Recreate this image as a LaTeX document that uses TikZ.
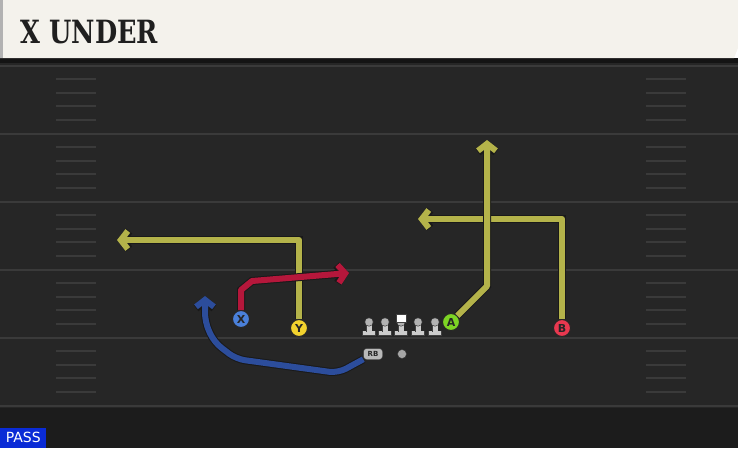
\documentclass[tikz,border=0pt]{standalone}
\usepackage{fontspec}
\setmainfont{DejaVu Sans}
\newfontfamily\titlefont{DejaVu Serif}[FakeStretch=0.8]
\usetikzlibrary{shapes,arrows.meta,positioning}
\definecolor{headbg}{HTML}{F4F2EC}
\definecolor{fieldbg}{HTML}{262626}
\definecolor{linegray}{HTML}{3A3A3A}
\definecolor{olive}{HTML}{B4B34A}
\definecolor{crimson}{HTML}{B5173B}
\definecolor{navy}{HTML}{2C4D9C}
\definecolor{xblue}{HTML}{4A80DA}
\definecolor{yyellow}{HTML}{F2D22E}
\definecolor{agreen}{HTML}{7DD424}
\definecolor{bred}{HTML}{E8384F}
\definecolor{passblue}{HTML}{0A2BD6}
\tikzset{
	player/.style={circle,draw=black!85,line width=1pt,minimum size=17pt,inner sep=0pt,font=\bfseries\fontsize{11}{11}\selectfont,text=black!85},
	route/.style={line width=6pt,line join=round,-{Straight Barb[length=7pt,width=18pt]},preaction={draw=black!90,line width=8pt}},
	yardline/.style={draw=linegray,line width=2pt},
	hashmark/.style={draw=linegray,line width=1.6pt},
	lineman/.pic={
		\fill[black!75] (-7,8.5) rectangle (7,14);
		\fill[gray!40] (-6.3,9.2) rectangle (6.3,13.3);
		\fill[black!75] (-3.2,1) rectangle (3.2,10);
		\fill[gray!40] (-2.5,1) rectangle (2.5,10);
		\fill[black!75] (0,0) circle (4.5);
		\fill[gray!60] (0,0) circle (3.8);
	}
}
\begin{document}
\begin{tikzpicture}[x=1pt,y=-1pt]
	\useasboundingbox (0,0) rectangle (738,448);
	% field
	\fill[fieldbg] (0,58) rectangle (738,448);
	\fill[black!89] (0,408) rectangle (738,448);
	\fill[black!92] (0,58) rectangle (738,63);
	%% yard lines and hash marks
	\foreach \k in {0,...,5} {
		\draw[yardline] (0,66+68*\k) -- (738,66+68*\k);
	}
	\foreach \k in {0,...,4} {
		\foreach \d in {13,27,40,54} {
			\draw[hashmark] (56,66+68*\k+\d) -- (96,66+68*\k+\d);
			\draw[hashmark] (646,66+68*\k+\d) -- (686,66+68*\k+\d);
		}
	}
	% header
	\fill[headbg] (0,0) -- (738,0) -- (738,48) -- (734,58) -- (0,58) -- cycle;
	\fill[gray!60] (0,0) rectangle (3,58);
	\node[anchor=west,font=\titlefont\bfseries\fontsize{32}{32}\selectfont,text=black!88] (title) at (17,32) {X UNDER};
	% route ends
	\coordinate (yend) at (117,240);
	\coordinate (bend) at (418,219);
	\coordinate (abreak) at (487,286);
	\coordinate (aend) at (487,140);
	\coordinate (xbreak1) at (241,290);
	\coordinate (xbreak2) at (252,281);
	\coordinate (xend) at (349,273);
	\coordinate (rb1) at (338,373);
	\coordinate (rb2) at (236,359);
	\coordinate (rb3) at (214,342);
	\coordinate (rb4) at (205,322);
	\coordinate (rbend) at (205,296);
	% backfield
	\node[draw=black!80,fill=gray!55,rounded corners=3pt,minimum width=19pt,minimum height=11pt,inner sep=0pt,font=\bfseries\fontsize{7}{7}\selectfont,text=black!85] (rb) at (373,354) {RB};
	\node[circle,draw=black!80,fill=gray!70,minimum size=9pt,inner sep=0pt] (qb) at (402,354) {};
	%% skill players
	\node[player,fill=xblue] (x) at (241,319) {X};
	\node[player,fill=yyellow] (y) at (299,328) {Y};
	\node[player,fill=agreen] (a) at (451,322) {A};
	\node[player,fill=bred] (b) at (562,328) {B};
	%% routes
	\draw[route,olive] (y) |- (yend);
	\draw[route,olive] (b) |- (bend);
	\draw[route,olive] (a) -- (abreak) -- (aend);
	\draw[route,crimson] (x) -- (xbreak1) -- (xbreak2) -- (xend);
	\draw[route,navy,rounded corners=9pt] (rb) -- (rb1) -- (rb2) -- (rb3) -- (rb4) -- (rbend);
	% line
	\foreach \px in {369,385,418,435} {
		\pic at (\px,322) {lineman};
	}
	\pic at (401,322) {lineman};
	\fill[black!75] (395.5,313.5) rectangle (406.5,323);
	\fill[white] (396.5,314.5) rectangle (405.5,322);
	% play type
	\node[fill=passblue,text=white,anchor=south west,inner xsep=2pt,inner ysep=1pt,minimum height=20pt,minimum width=46pt,font=\fontsize{14}{14}\selectfont] (pass) at (0,448) {PASS};
\end{tikzpicture}
\end{document}
